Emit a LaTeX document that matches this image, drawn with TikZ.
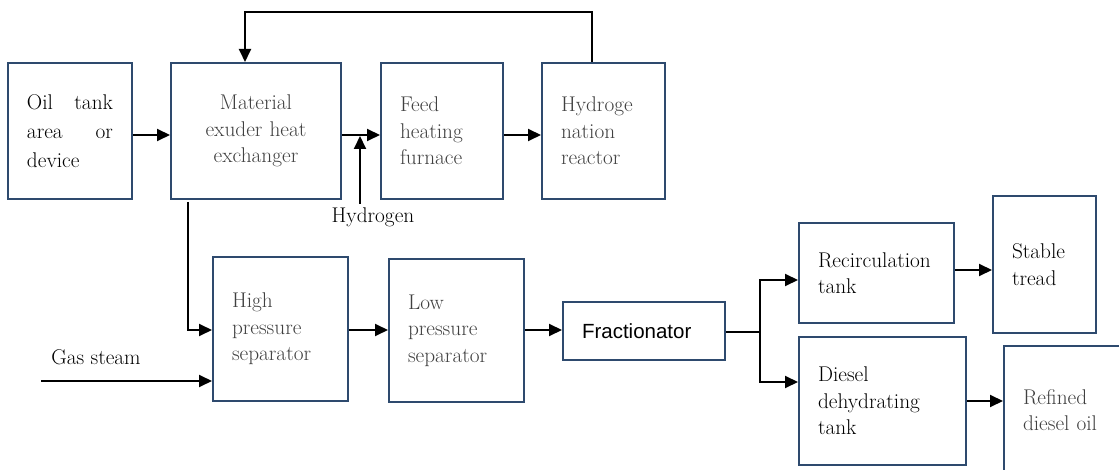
\documentclass[tikz,border=0pt]{standalone}
\usepackage{fontspec}
\newfontfamily\timesf{Latin Modern Roman}
\newfontfamily\arialf{Liberation Sans}
\usetikzlibrary{arrows.meta}
\definecolor{boxc}{HTML}{2E4A6E}
\definecolor{txtg}{HTML}{404040}
\begin{document}
\begin{tikzpicture}[x=1pt,y=-1pt,
  blk/.style={draw=boxc, line width=2pt, rectangle, inner xsep=19pt, inner ysep=2pt,
    font=\timesf\fontsize{21.3}{26.5}\selectfont, align=left},
  lbl/.style={inner sep=0pt, font=\timesf\fontsize{21.3}{26.5}\selectfont},
  arr/.style={line width=1.9pt, -{Triangle[length=13pt,width=12pt]}},
  ln/.style={line width=1.9pt}]
\clip (0,0) rectangle (1119,470);
\fill[white] (0,0) rectangle (1119,470);
% top row
\node[blk, text width=86pt, minimum height=136pt, font=\timesf\fontsize{21.3}{29}\selectfont] (A) at (70,131)
  {Oil\hfill tank\\area\hfill or\\device};
\node[blk, text width=132pt, minimum height=136pt, align=center, text=txtg] (B) at (256,131)
  {Material\\exuder heat\\exchanger};
\node[blk, text width=84pt, minimum height=136pt, text=txtg] (C) at (442,131)
  {Feed\\heating\\furnace};
\node[blk, text width=85pt, minimum height=136pt, text=txtg] (D) at (603.5,131)
  {Hydroge\\nation\\reactor};
% middle row
\node[blk, text width=97pt, minimum height=144pt, text=txtg] (E) at (280.5,329)
  {High\\pressure\\separator};
\node[blk, text width=97pt, minimum height=143pt, text=txtg] (F) at (456.5,330.5)
  {Low\\pressure\\separator};
\node[blk, text width=124pt, minimum height=58pt, font=\arialf\fontsize{20.5}{26}\selectfont] (Fr) at (644,331)
  {Fractionator};
\node[blk, text width=117pt, minimum height=100pt] (R) at (876.5,273)
  {Recirculation\\tank};
\node[blk, text width=65pt, minimum height=137pt] (S) at (1044.5,264.5)
  {Stable\\tread};
\node[blk, text width=129pt, minimum height=128pt] (Di) at (882.5,401)
  {Diesel\\dehydrating\\tank};
\node[blk, text width=88pt, minimum height=128pt, text=txtg] (Rf) at (1067,410)
  {Refined\\diesel oil};
% labels
\node[lbl] (H) at (373,217) {Hydrogen};
\node[lbl] (G) at (96,357) {Gas steam};
% coordinates
\coordinate (hs) at (360,204);
\coordinate (hj) at (360,136);
\coordinate (gs) at (41,381);
\coordinate (br) at (760,332);
% connectors
\draw[arr] ([yshift=-4pt]A.east) -- ([yshift=-4pt]A.east -| B.west);
\draw[arr] ([yshift=-4pt]B.east) -- ([yshift=-4pt]B.east -| C.west);
\draw[arr] (hs) -- (hj);
\draw[arr] ([yshift=-4pt]C.east) -- ([yshift=-4pt]C.east -| D.west);
\draw[arr] ([xshift=-11.5pt]D.north) -- ++(0,-50) -| ([xshift=-11pt]B.north);
\draw[arr] ([xshift=-68pt,yshift=-2pt]B.south) |- ([yshift=-1pt]E.west);
\draw[arr] (gs) -- (gs -| E.west);
\draw[arr] ([yshift=-1pt]E.east) -- ([yshift=-1pt]E.east -| F.west);
\draw[arr] ([yshift=0.5pt]F.east) -- ([yshift=0.5pt]F.east -| Fr.west);
\draw[ln] ([yshift=-1pt]Fr.east) -- (br);
\draw[arr] (br) |- ([yshift=-7pt]R.west);
\draw[arr] (br) |- ([yshift=19pt]Di.west);
\draw[arr] ([yshift=3pt]R.east) -- ([yshift=3pt]R.east -| S.west);
\draw[arr] (Di.east) -- (Di.east -| Rf.west);
\end{tikzpicture}
\end{document}
